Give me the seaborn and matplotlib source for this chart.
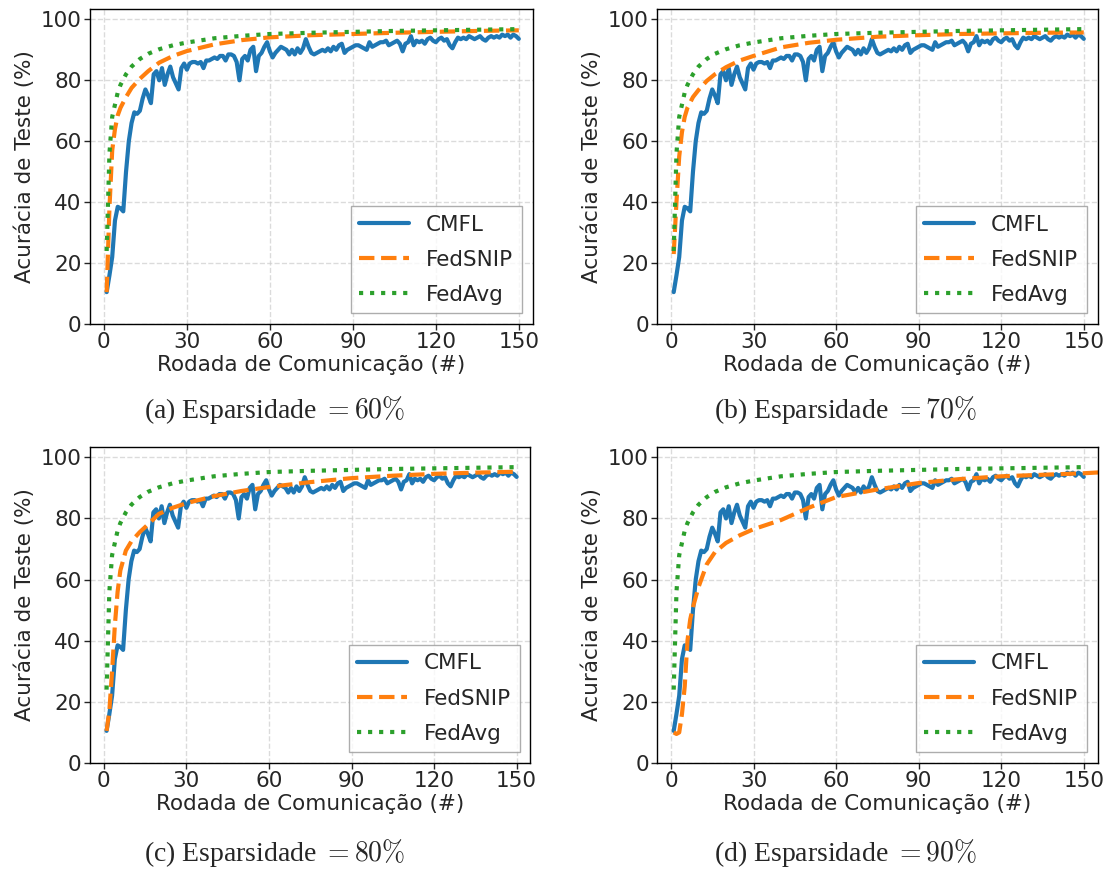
import numpy as np
import seaborn as sns
import matplotlib.pyplot as plt

sns.set_theme(style="ticks")
plt.rcParams['font.family'] = ['DejaVu Sans']
plt.rcParams['mathtext.fontset'] = 'cm'

# CMFL accuracy per round (same run in every panel)
cmfl_acc = [
    10.5, 16, 22, 34, 38.5, 38, 37, 50, 60, 66,
    69.5, 69, 70, 74, 77, 75, 72.5, 82, 83, 80,
    84, 78.5, 82, 84.5, 81, 79, 77, 84, 85.5, 83.5,
    85.5, 86, 86, 85.5, 86, 84, 86.5, 86.5, 87, 87.5,
    87, 88, 88, 86.5, 88.5, 88.5, 88, 86, 80, 87,
    88, 86.5, 90, 91, 83, 88, 89, 91, 92.5, 89.5,
    87.5, 89, 90, 91, 90.5, 90, 88.5, 90, 88.5, 90.5,
    89, 90.5, 93.5, 91, 89, 88.5, 89, 89.5, 90, 89.5,
    90.5, 89.5, 91, 90, 91.5, 92, 89, 90, 90.5, 91,
    91.5, 91.5, 91, 90.5, 90, 92.5, 91, 91.5, 92, 92.5,
    92.5, 93, 91.5, 92, 92.5, 93, 92, 89.5, 92, 92.5,
    94.5, 91.5, 93, 92.5, 93, 92, 93.5, 94, 93, 92.5,
    93.5, 94, 93, 93.5, 91.5, 90.5, 92.5, 94, 93.5, 94,
    93.5, 94.5, 94, 93.5, 94, 94.5, 93.5, 93, 94, 94.5,
    94, 94.5, 94, 95, 94.5, 95, 94, 95, 94.5, 93.6,
]
cmfl_rounds = list(range(1, len(cmfl_acc) + 1))

# smooth curves, read at selected rounds
fed_rounds = [1, 2, 3, 4, 5, 6, 8, 10, 13, 16, 20, 25, 30, 40, 50, 60, 75, 90, 105, 120, 135, 150]
fedavg_acc = [24, 56, 68, 72, 76, 78.5, 82, 84.5, 87, 88.7, 90.2, 91.5, 92.4, 93.8, 94.6,
              95.2, 95.6, 95.9, 96.2, 96.4, 96.6, 96.8]
fedsnip_60 = [10.5, 38, 57, 64, 68.5, 71, 74.5, 77.5, 80.5, 83, 85.8, 88, 89.6, 91.8, 93.2,
              94.1, 94.8, 95.2, 95.6, 95.9, 96.2, 96.4]
fedsnip_70 = [23, 40, 55, 63, 68, 71, 74.5, 76.8, 79.8, 82, 84.3, 86.5, 88, 90.8, 92.3,
              93.3, 94.3, 94.8, 95.2, 95.4, 95.6, 95.7]
fedsnip_80 = [10.5, 17, 30, 45, 56, 63, 69.5, 72.5, 75.5, 78, 81.5, 83.5, 85, 87.3, 89,
              90.3, 91.9, 93.2, 94, 94.6, 95, 95.3]
snip90_rounds = [1, 2, 3, 4, 5, 6, 7, 8, 10, 13, 16, 20, 25, 30, 40, 50, 60, 75, 90, 105, 120, 135, 150, 160]
fedsnip_90 = [10, 9.5, 10, 16, 25, 40, 47, 51, 57.5, 65, 69, 72, 74.5, 76.5, 79.5, 83.5,
              87, 89.5, 91.6, 92.9, 93.8, 94.3, 94.8, 95.3]

panels = [
    ("(a) Esparsidade $= 60\\%$", fed_rounds, fedsnip_60),
    ("(b) Esparsidade $= 70\\%$", fed_rounds, fedsnip_70),
    ("(c) Esparsidade $= 80\\%$", fed_rounds, fedsnip_80),
    ("(d) Esparsidade $= 90\\%$", snip90_rounds, fedsnip_90),
]

rects = [
    [0.081, 0.627, 0.398, 0.363],
    [0.591, 0.627, 0.396, 0.363],
    [0.081, 0.122, 0.396, 0.364],
    [0.591, 0.122, 0.396, 0.364],
]
caption_pos = [(0.247, 0.528), (0.760, 0.528), (0.247, 0.018), (0.760, 0.018)]

fig = plt.figure(figsize=(11.12, 8.69), dpi=100)
fs = 15.5

for (caption, snip_x, snip_y), rect, cpos in zip(panels, rects, caption_pos):
    ax = fig.add_axes(rect)
    sns.lineplot(x=cmfl_rounds, y=cmfl_acc, ax=ax, color="#1f77b4", linewidth=3, label="CMFL")
    sns.lineplot(x=snip_x, y=snip_y, ax=ax, color="#ff7f0e", linewidth=3,
                 linestyle="--", label="FedSNIP")
    sns.lineplot(x=fed_rounds, y=fedavg_acc, ax=ax, color="#2ca02c", linewidth=3,
                 linestyle=":", label="FedAvg")
    ax.set_xlim(-5, 155)
    ax.set_ylim(0, 103.5)
    ax.set_xticks([0, 30, 60, 90, 120, 150])
    ax.set_yticks([0, 20, 40, 60, 80, 100])
    ax.tick_params(labelsize=fs, length=4, width=1, pad=2)
    ax.set_xlabel("Rodada de Comunicação (#)", fontsize=fs, labelpad=2)
    ax.set_ylabel("Acurácia de Teste (%)", fontsize=fs, labelpad=4)
    ax.grid(True, linestyle="--", color="#cccccc", linewidth=1, alpha=0.7)
    for sp in ax.spines.values():
        sp.set_color("black")
        sp.set_linewidth(1)
    ax.legend(loc="lower right", fontsize=fs, fancybox=False, handlelength=2.3,
              labelspacing=0.7, edgecolor="#999999", framealpha=0.8)
    fig.text(cpos[0], cpos[1], caption, ha="center", va="center", fontsize=20,
             family="Liberation Serif")

fig.savefig("out.png", dpi=100)
